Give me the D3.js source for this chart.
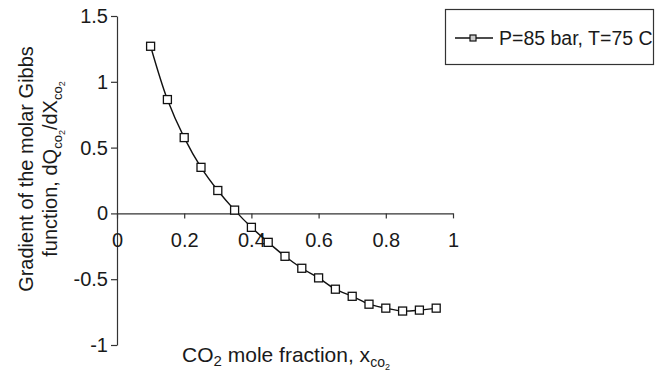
<!DOCTYPE html>
<html><head><meta charset="utf-8">
<script src="https://cdn.jsdelivr.net/npm/d3@7"></script>
<style>body{margin:0;background:#fff}svg{display:block}text{font-family:"Liberation Sans",Arial,sans-serif;fill:#1a1a1a}</style>
</head><body>
<script>
const xValues = [0.1,0.15,0.2,0.25,0.3,0.35,0.4,0.45,0.5,0.55,0.6,0.65,0.7,0.75,0.8,0.85,0.9,0.95];
const yValues = [1.27,0.865,0.576,0.35,0.174,0.025,-0.106,-0.22,-0.326,-0.417,-0.49,-0.576,-0.63,-0.69,-0.72,-0.742,-0.735,-0.72];
const xTicks = [0,0.2,0.4,0.6,0.8,1];
const xTickLabels = ["0","0.2","0.4","0.6","0.8","1"];
const yTicks = [-1,-0.5,0,0.5,1,1.5];
const yTickLabels = ["-1","-0.5","0","0.5","1","1.5"];
const seriesName = "P=85 bar, T=75 C";

const W=658,H=373, FS=20;
const svg=d3.select("body").append("svg").attr("width",W).attr("height",H);
const x=d3.scaleLinear().domain([0,1]).range([117,453]);
const y=d3.scaleLinear().domain([-1,1.5]).range([345,16]);

const ya=d3.axisLeft(y).tickValues(yTicks).tickFormat((d,i)=>yTickLabels[i]).tickSize(6).tickSizeOuter(0).tickPadding(3);
const gy=svg.append("g").attr("transform",`translate(${x(0)},0)`).call(ya);
const xa=d3.axisBottom(x).tickValues(xTicks).tickFormat((d,i)=>xTickLabels[i]).tickSize(5).tickSizeOuter(0).tickPadding(14);
const gx=svg.append("g").attr("transform",`translate(0,${y(0)})`).call(xa);
[gx,gy].forEach(g=>{
  g.selectAll("path.domain").attr("stroke","#333").attr("stroke-width",1.2);
  g.selectAll(".tick line").attr("stroke","#333").attr("stroke-width",1.2);
  g.selectAll("text").attr("font-size",FS).attr("font-family","Liberation Sans, Arial, sans-serif").attr("fill","#1a1a1a");
});

const data=xValues.map((v,i)=>[v,yValues[i]]);
svg.append("path").datum(data)
  .attr("d",d3.line().x(d=>x(d[0])).y(d=>y(d[1])).curve(d3.curveCatmullRom.alpha(0.5)))
  .attr("fill","none").attr("stroke","#111").attr("stroke-width",1.4);
const ms=8;
svg.selectAll("rect.m").data(data).enter().append("rect").attr("class","m")
  .attr("x",d=>x(d[0])-ms/2).attr("y",d=>y(d[1])-ms/2).attr("width",ms).attr("height",ms)
  .attr("fill","#fff").attr("stroke","#111").attr("stroke-width",1.3);

// x title
const xt=svg.append("text").attr("x",286).attr("y",362).attr("text-anchor","middle").attr("font-size",21);
xt.append("tspan").text("CO");
xt.append("tspan").attr("font-size",15).attr("dy",4).text("2");
xt.append("tspan").attr("dy",-4).text(" mole fraction, x");
xt.append("tspan").attr("font-size",14).attr("dy",5).text("co");
xt.append("tspan").attr("font-size",9).attr("dy",3).text("2");

// y title
const yt=svg.append("g").attr("transform","translate(0,169) rotate(-90)");
yt.append("text").attr("x",0).attr("y",33).attr("text-anchor","middle").attr("font-size",FS).text("Gradient of the molar Gibbs");
const y2=yt.append("text").attr("x",0).attr("y",57).attr("text-anchor","middle").attr("font-size",FS);
y2.append("tspan").text("function, dQ");
y2.append("tspan").attr("font-size",13).attr("dy",5).text("co");
y2.append("tspan").attr("font-size",9).attr("dy",3).text("2");
y2.append("tspan").attr("dy",-8).text("/dX");
y2.append("tspan").attr("font-size",13).attr("dy",5).text("co");
y2.append("tspan").attr("font-size",9).attr("dy",3).text("2");

// legend
const lg=svg.append("g");
lg.append("rect").attr("x",445.5).attr("y",9.5).attr("width",208).attr("height",55).attr("fill","#fff").attr("stroke","#333").attr("stroke-width",1.2);
lg.append("line").attr("x1",455).attr("x2",493).attr("y1",38).attr("y2",38).attr("stroke","#111").attr("stroke-width",1.4);
lg.append("rect").attr("x",470).attr("y",35).attr("width",6).attr("height",6).attr("fill","#ccc").attr("stroke","#111").attr("stroke-width",1.2);
lg.append("text").attr("x",499).attr("y",45).attr("font-size",19.5).text(seriesName);
</script>
</body></html>
